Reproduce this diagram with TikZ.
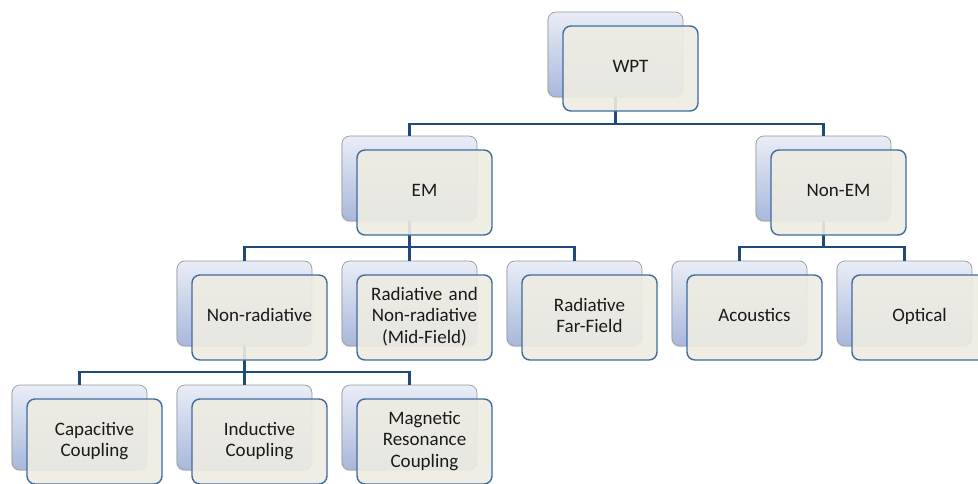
\documentclass[tikz,border=0pt]{standalone}
\usepackage{fontspec}
\setmainfont{Carlito}
\usetikzlibrary{shadows}
\definecolor{connc}{HTML}{1F4A7A}
\definecolor{frontline}{HTML}{3E6C9E}
\definecolor{frontfill}{HTML}{EEECE2}
\definecolor{backtop}{HTML}{E9EDF7}
\definecolor{backbot}{HTML}{A8B8DB}
\definecolor{backline}{HTML}{9A9A9A}
\definecolor{txt}{HTML}{1A1A1A}
\newcommand\mystrut{\rule[-4.2pt]{0pt}{16.4pt}}
\newcommand\backat[3]{\node[backbox] (#1b) at (#2,-#3) {};}
\newcommand\frontat[4]{\node[frontbox] (#1) at (#2+15,-#3-14) {\mystrut #4\mystrut};}
\begin{document}
\begin{tikzpicture}[x=1pt,y=1pt,
  backbox/.style={rounded corners=8pt, draw=backline, line width=0.7pt,
    top color=backtop, bottom color=backbot, minimum width=135pt,
    minimum height=85pt, anchor=north west, inner sep=0pt, outer sep=0pt,
    drop shadow={opacity=0.18, shadow xshift=-1pt, shadow yshift=-1.2pt}},
  frontbox/.style={rounded corners=8pt, draw=frontline, line width=1.4pt,
    fill=frontfill, fill opacity=0.9, text opacity=1, text=txt, minimum width=135pt,
    minimum height=85pt, anchor=north west, inner sep=0pt, outer sep=0pt,
    align=center, text width=128pt, font=\fontsize{19}{21.6}\selectfont},
  connector/.style={draw=connc, line width=2.6pt}]
\useasboundingbox (0,0) rectangle (978,-484);
\clip (0,0) rectangle (978,-484);
\fill[white] (0,0) rectangle (978,-484);
% back boxes
\backat{wpt}{548}{12}
\backat{em}{342}{136}
\backat{nem}{756}{136}
\backat{nrad}{177}{261}
\backat{mid}{342}{261}
\backat{far}{507}{261}
\backat{aco}{672}{261}
\backat{opt}{837}{261}
\backat{cap}{12}{385}
\backat{ind}{177}{385}
\backat{mag}{342}{385}
% level lines
\coordinate (h1) at (0,-124);
\coordinate (h2) at (0,-247);
\coordinate (h3) at (0,-372);
% connectors
\draw[connector] (wptb.south) |- (emb.north |- h1) -- (emb.north);
\draw[connector] (wptb.south) |- (nemb.north |- h1) -- (nemb.north);
\draw[connector] (emb.south) |- (nradb.north |- h2) -- (nradb.north);
\draw[connector] (emb.south) -- (midb.north);
\draw[connector] (emb.south) |- (farb.north |- h2) -- (farb.north);
\draw[connector] (nemb.south) |- (acob.north |- h2) -- (acob.north);
\draw[connector] (nemb.south) |- (optb.north |- h2) -- (optb.north);
\draw[connector] (nradb.south) |- (capb.north |- h3) -- (capb.north);
\draw[connector] (nradb.south) -- (indb.north);
\draw[connector] (nradb.south) |- (magb.north |- h3) -- (magb.north);
% front boxes
\frontat{wpt}{548}{12}{WPT}
\frontat{em}{342}{136}{EM}
\frontat{nem}{756}{136}{Non-EM}
\frontat{nrad}{177}{261}{Non-radiative}
\frontat{mid}{342}{261}{Radiative and\\Non-radiative\\(Mid-Field)}
\frontat{far}{507}{261}{Radiative\\Far-Field}
\frontat{aco}{672}{261}{Acoustics}
\frontat{opt}{837}{261}{Optical}
\frontat{cap}{12}{385}{Capacitive\\Coupling}
\frontat{ind}{177}{385}{Inductive\\Coupling}
\frontat{mag}{342}{385}{Magnetic\\Resonance\\Coupling}
\end{tikzpicture}
\end{document}
